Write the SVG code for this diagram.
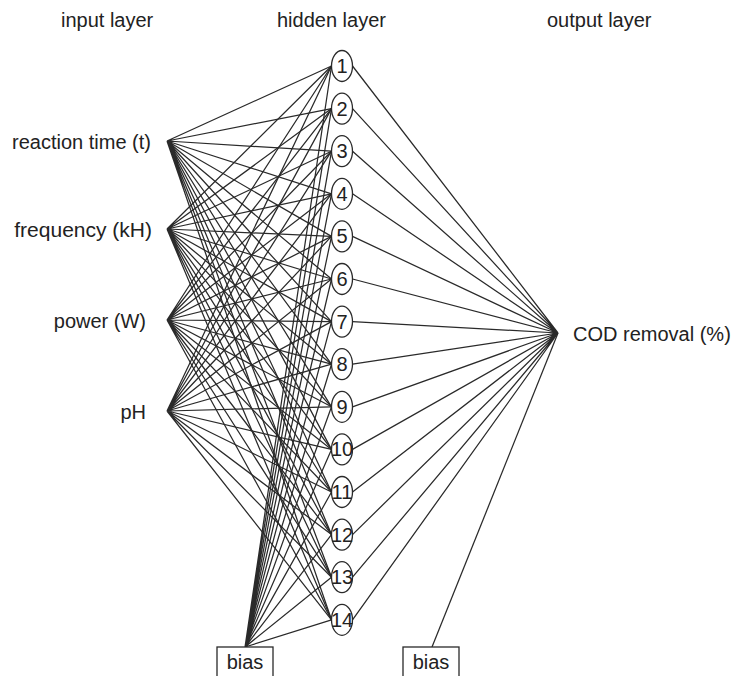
<svg xmlns="http://www.w3.org/2000/svg" width="737" height="676" viewBox="0 0 737 676">
<style>
text{font-family:"Liberation Sans",Arial,sans-serif;font-size:20px;fill:#222}
.c path{stroke:#2a2a2a;stroke-width:1.25;fill:none}
.h ellipse{fill:#fff;stroke:#2a2a2a;stroke-width:1.3}
.h text{font-size:20px;text-anchor:middle}
.b rect{fill:#fff;stroke:#2a2a2a;stroke-width:1.3}
</style>
<rect width="737" height="676" fill="#fff"/>
<g id="headers">
<text x="61" y="27">input layer</text>
<text x="277" y="27">hidden layer</text>
<text x="547" y="27">output layer</text>
</g>
<g class="c" id="connectors">
<path d="M167 141L331.5 66M167 141L331.5 108.6M167 141L331.5 151.2M167 141L331.5 193.8M167 141L331.5 236.4M167 141L331.5 279M167 141L331.5 321.6M167 141L331.5 364.2M167 141L331.5 406.8M167 141L331.5 449.4M167 141L331.5 492M167 141L331.5 534.6M167 141L331.5 577.2M167 141L331.5 619.8"/>
<path d="M167 229L331.5 66M167 229L331.5 108.6M167 229L331.5 151.2M167 229L331.5 193.8M167 229L331.5 236.4M167 229L331.5 279M167 229L331.5 321.6M167 229L331.5 364.2M167 229L331.5 406.8M167 229L331.5 449.4M167 229L331.5 492M167 229L331.5 534.6M167 229L331.5 577.2M167 229L331.5 619.8"/>
<path d="M167 320L331.5 66M167 320L331.5 108.6M167 320L331.5 151.2M167 320L331.5 193.8M167 320L331.5 236.4M167 320L331.5 279M167 320L331.5 321.6M167 320L331.5 364.2M167 320L331.5 406.8M167 320L331.5 449.4M167 320L331.5 492M167 320L331.5 534.6M167 320L331.5 577.2M167 320L331.5 619.8"/>
<path d="M167 411L331.5 66M167 411L331.5 108.6M167 411L331.5 151.2M167 411L331.5 193.8M167 411L331.5 236.4M167 411L331.5 279M167 411L331.5 321.6M167 411L331.5 364.2M167 411L331.5 406.8M167 411L331.5 449.4M167 411L331.5 492M167 411L331.5 534.6M167 411L331.5 577.2M167 411L331.5 619.8"/>
<path d="M245 647L331.5 66M245 647L331.5 108.6M245 647L331.5 151.2M245 647L331.5 193.8M245 647L331.5 236.4M245 647L331.5 279M245 647L331.5 321.6M245 647L331.5 364.2M245 647L331.5 406.8M245 647L331.5 449.4M245 647L331.5 492M245 647L331.5 534.6M245 647L331.5 577.2M245 647L331.5 619.8"/>
<path d="M352.5 66L558 333M352.5 108.6L558 333M352.5 151.2L558 333M352.5 193.8L558 333M352.5 236.4L558 333M352.5 279L558 333M352.5 321.6L558 333M352.5 364.2L558 333M352.5 406.8L558 333M352.5 449.4L558 333M352.5 492L558 333M352.5 534.6L558 333M352.5 577.2L558 333M352.5 619.8L558 333"/>
<path d="M432 647L558 333"/>
</g>
<g id="in1"><text x="151" y="149" text-anchor="end">reaction time (t)</text></g>
<g id="in2"><text x="152" y="237" text-anchor="end" style="font-size:21px">frequency (kH)</text></g>
<g id="in3"><text x="146" y="328" text-anchor="end">power (W)</text></g>
<g id="in4"><text x="146" y="419" text-anchor="end">pH</text></g>
<g class="h" id="h1"><ellipse cx="342" cy="66" rx="10.5" ry="15.5"/><text x="342" y="73">1</text></g>
<g class="h" id="h2"><ellipse cx="342" cy="108.6" rx="10.5" ry="15.5"/><text x="342" y="115.6">2</text></g>
<g class="h" id="h3"><ellipse cx="342" cy="151.2" rx="10.5" ry="15.5"/><text x="342" y="158.2">3</text></g>
<g class="h" id="h4"><ellipse cx="342" cy="193.8" rx="10.5" ry="15.5"/><text x="342" y="200.8">4</text></g>
<g class="h" id="h5"><ellipse cx="342" cy="236.4" rx="10.5" ry="15.5"/><text x="342" y="243.4">5</text></g>
<g class="h" id="h6"><ellipse cx="342" cy="279" rx="10.5" ry="15.5"/><text x="342" y="286">6</text></g>
<g class="h" id="h7"><ellipse cx="342" cy="321.6" rx="10.5" ry="15.5"/><text x="342" y="328.6">7</text></g>
<g class="h" id="h8"><ellipse cx="342" cy="364.2" rx="10.5" ry="15.5"/><text x="342" y="371.2">8</text></g>
<g class="h" id="h9"><ellipse cx="342" cy="406.8" rx="10.5" ry="15.5"/><text x="342" y="413.8">9</text></g>
<g class="h" id="h10"><ellipse cx="342" cy="449.4" rx="10.5" ry="15.5"/><text x="342" y="456.4">10</text></g>
<g class="h" id="h11"><ellipse cx="342" cy="492" rx="10.5" ry="15.5"/><text x="342" y="499">11</text></g>
<g class="h" id="h12"><ellipse cx="342" cy="534.6" rx="10.5" ry="15.5"/><text x="342" y="541.6">12</text></g>
<g class="h" id="h13"><ellipse cx="342" cy="577.2" rx="10.5" ry="15.5"/><text x="342" y="584.2">13</text></g>
<g class="h" id="h14"><ellipse cx="342" cy="619.8" rx="10.5" ry="15.5"/><text x="342" y="626.8">14</text></g>
<g id="out"><text x="573" y="341">COD removal (%)</text></g>
<g class="b" id="bias1"><rect x="217" y="647" width="56" height="40"/><text x="245" y="669" text-anchor="middle">bias</text></g>
<g class="b" id="bias2"><rect x="403" y="647" width="56" height="40"/><text x="431" y="669" text-anchor="middle">bias</text></g>
</svg>
